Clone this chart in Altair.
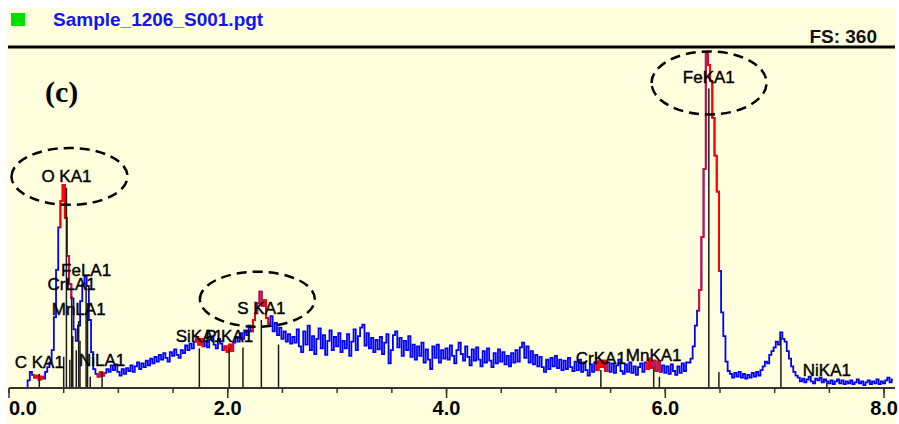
import altair as alt
import pandas as pd

# ---------------- data ----------------
E_START = 0.16   # keV of first channel
E_STEP = 0.02    # keV per channel

counts_low = [0, 8, 17, 14, 11, 13, 9, 12, 10, 17, 22, 27, 40, 75, 125, 170, 198, 215, 180, 140,
              110, 95, 62, 50, 66, 92, 110, 118, 108, 72, 38, 20, 15, 12, 17, 13, 16, 20, 17, 24,
              19, 25]  # 0.16 .. 0.98
counts_si_s = [17, 13, 20, 15, 21, 18, 24, 17, 23, 27, 20, 26, 22, 29, 24, 31, 26, 33, 28, 35,
               30, 37, 32, 28, 38, 34, 41, 35, 32, 40, 37, 45, 40, 47, 42, 49, 54, 46, 52, 44,
               50, 43, 51, 54, 46, 42, 52, 47, 40, 44, 38, 46, 39, 48, 54, 49, 58, 52, 61, 56,
               66, 60, 72, 79, 90, 102, 87, 93, 74, 68, 76, 60, 69, 56, 64, 52, 60, 49, 57, 47,
               54]  # 1.00 .. 2.60
counts_mid = [48, 62, 44, 38, 60, 46, 66, 40, 55, 36, 52, 63, 42, 56, 35, 50, 61, 40, 54, 44,
              58, 38, 50, 42, 57, 34, 49, 62, 40, 55, 64, 67, 45, 58, 42, 53, 38, 51, 41, 54,
              36, 48, 57, 26, 40, 56, 60, 43, 53, 34, 50, 40, 55, 33, 46, 30, 44, 34, 48, 27,
              41, 30, 20, 44, 32, 46, 27, 40, 31]  # 2.62 .. 3.98
counts_high = [42, 30, 45, 34, 26, 40, 48, 36, 29, 44, 33, 24, 41, 29, 43, 30, 23, 39, 27, 42,
               29, 22, 37, 26, 41, 28, 38, 25, 34, 23, 37, 27, 40, 28, 43, 48, 32, 44, 27, 39,
               25, 35, 23, 33, 22, 17, 30, 20, 32, 23, 34, 21, 30, 19, 29, 20, 32, 22, 18, 28,
               19, 30, 17, 27, 19, 13, 25, 17, 27, 19, 29]  # 4.00 .. 5.40
counts_crmn = [22, 29, 18, 27, 17, 26, 16, 24, 30, 18, 15, 25, 17, 27, 16, 23, 14, 22, 26, 17,
               27, 20, 31, 21, 29, 18, 28, 17, 24, 16, 23, 15, 25, 18, 14, 23, 16, 26, 18, 27]  # 5.42 .. 6.20
counts_fe = [27, 31, 44, 66, 82, 104, 160, 232, 355, 342, 325, 286, 246, 208, 124, 80, 55, 28,
             18, 15, 11, 16, 12, 17, 11, 15, 10, 14, 11, 16, 12, 17, 13, 19, 23, 28, 26, 35,
             39, 43, 49, 46, 59, 52, 49, 39, 31, 23, 17, 13]  # 6.22 .. 7.20
counts_tail = [11, 7, 10, 6, 9, 12, 7, 5, 10, 8, 11, 6, 9, 7, 5, 8, 4, 7, 9, 5,
               8, 4, 7, 5, 8, 4, 6, 9, 5, 7, 3, 6, 8, 4, 7, 5, 9, 4, 7, 5,
               8, 11, 6, 9]  # 7.22 .. 8.08

counts = counts_low + counts_si_s + counts_mid + counts_high + counts_crmn + counts_fe + counts_tail
energy = [round(E_START + E_STEP * i, 2) for i in range(len(counts))]

# regions of interest drawn in red
roi_names = ["C", "O", "NiL", "Si", "P", "S", "Cr", "Mn", "Fe"]
roi_lo = [0.22, 0.46, 0.80, 1.70, 1.96, 2.22, 5.36, 5.82, 6.30]
roi_hi = [0.32, 0.58, 0.88, 1.78, 2.06, 2.38, 5.48, 5.96, 6.50]

# labelled element lines
label_text = ["C KA1", "O KA1", "CrLA1", "MnLA1", "FeLA1", "NiLA1", "SiKA1", "P KA1", "S KA1",
              "CrKA1", "MnKA1", "FeKA1", "NiKA1"]
label_energy = [0.277, 0.525, 0.573, 0.637, 0.705, 0.851, 1.740, 2.013, 2.307,
                5.411, 5.894, 6.398, 7.477]
label_height = [15, 212, 97, 71, 112, 17, 42, 42, 72, 19, 22, 317, 6]

# unlabelled companion lines (Ll, Lb, Kb)
extra_energy = [0.500, 0.556, 0.583, 0.615, 0.649, 0.718, 0.743, 2.139, 2.464, 5.946, 6.490, 7.057]
extra_height = [33, 30, 55, 40, 50, 90, 12, 43, 46, 12, 17, 54]

# circled peaks
circle_energy = [0.553, 2.271, 6.40]
circle_counts = [224, 94, 323]

minor_ticks = [0.0, 0.5, 1.0, 1.5, 2.0, 2.5, 3.0, 3.5, 4.0, 4.5, 5.0, 5.5, 6.0, 6.5, 7.0, 7.5, 8.0]
major_ticks = [0.0, 2.0, 4.0, 6.0, 8.0]

title_text = "Sample_1206_S001.pgt"
fs_text = "FS: 360"
panel_text = "(c)"

# ---------------- tables ----------------
spec = pd.DataFrame({"energy": energy, "counts": counts})
roi_rows = []
for name, lo, hi in zip(roi_names, roi_lo, roi_hi):
    for e, c in zip(energy, counts):
        if lo - 1e-9 <= e <= hi + 1e-9:
            roi_rows.append({"energy": e, "counts": c, "roi": name})
roi_df = pd.DataFrame(roi_rows)
lab_df = pd.DataFrame({"energy": label_energy, "h": label_height, "t": label_text})
mark_df = pd.DataFrame({"energy": label_energy + extra_energy, "h": label_height + extra_height})
minor_df = pd.DataFrame({"v": minor_ticks})
major_df = pd.DataFrame({"v": major_ticks, "lbl": [f"{v:.1f}" for v in major_ticks]})
one = pd.DataFrame({"a": [0]})

W, H = 886, 340
xs = alt.Scale(domain=[0, 8.1], nice=False, zero=False)
ys = alt.Scale(domain=[0, 360], nice=False)
FONT = "Liberation Sans"
YELLOW = "#FFFFDE"
AXC = "#333333"


def ellipse_path(b):
    k = 0.5523
    return (f"M -1 0 C -1 {-k*b:.4f} {-k:.4f} {-b:.4f} 0 {-b:.4f} "
            f"C {k:.4f} {-b:.4f} 1 {-k*b:.4f} 1 0 "
            f"C 1 {k*b:.4f} {k:.4f} {b:.4f} 0 {b:.4f} "
            f"C {-k:.4f} {b:.4f} -1 {k*b:.4f} -1 0 Z")


def X(field):
    return alt.X(field, scale=xs, axis=None, title=None)


def Y(field):
    return alt.Y(field, scale=ys, axis=None, title=None)


# white margins around the pale-yellow panel
white_top = alt.Chart(one).mark_rect(color="white").encode(
    x=alt.value(-9), x2=alt.value(890), y=alt.value(-48), y2=alt.value(-40))
white_left = alt.Chart(one).mark_rect(color="white").encode(
    x=alt.value(-9), x2=alt.value(-2), y=alt.value(-48), y2=alt.value(376))
white_right = alt.Chart(one).mark_rect(color="white").encode(
    x=alt.value(886), x2=alt.value(890), y=alt.value(-48), y2=alt.value(376))

blue = alt.Chart(spec).mark_line(color="#0000FF", strokeWidth=1.8, interpolate="step").encode(
    x=X("energy:Q"), y=Y("counts:Q"))

red = alt.Chart(roi_df).mark_line(color="#FF0000", strokeWidth=1.8, interpolate="step").encode(
    x=X("energy:Q"), y=Y("counts:Q"), detail="roi:N")

markers = alt.Chart(mark_df).mark_rule(color="#1a1a1a", strokeWidth=1.5).encode(
    x=X("energy:Q"), y=Y("h:Q"), y2=alt.datum(0))

labels = alt.Chart(lab_df).mark_text(font=FONT, fontSize=17, color="black", stroke="black",
                                     strokeWidth=0.4, align="center",
                                     baseline="alphabetic", dy=-6).encode(
    x=X("energy:Q"), y=Y("h:Q"), text="t:N")

# x axis: domain line, ticks every 0.5 keV, labelled every 2 keV
domain = alt.Chart(one).mark_rule(color=AXC, strokeWidth=2).encode(
    x=alt.value(0), x2=alt.value(W), y=alt.value(H))
minor = alt.Chart(minor_df).mark_rule(color=AXC, strokeWidth=1.5).encode(
    x=X("v:Q"), y=alt.value(H), y2=alt.value(H + 5))
major = alt.Chart(major_df).mark_rule(color=AXC, strokeWidth=1.5).encode(
    x=X("v:Q"), y=alt.value(H), y2=alt.value(H + 10))
tick_first = alt.Chart(major_df).transform_filter("datum.v == 0").mark_text(
    font=FONT, fontWeight="bold", fontSize=20, color="black", align="left",
    baseline="alphabetic").encode(x=X("v:Q"), y=alt.value(H + 27), text="lbl:N")
tick_rest = alt.Chart(major_df).transform_filter("datum.v > 0").mark_text(
    font=FONT, fontWeight="bold", fontSize=20, color="black", align="center",
    baseline="alphabetic").encode(x=X("v:Q"), y=alt.value(H + 27), text="lbl:N")

ell_layers = []
for e, c, rx, b in zip(circle_energy, circle_counts, [58, 57.5, 57.5], [0.49, 0.478, 0.548]):
    d = pd.DataFrame({"energy": [e], "counts": [c]})
    ell_layers.append(
        alt.Chart(d).mark_point(shape=ellipse_path(b), size=(2 * rx) ** 2, filled=False,
                                stroke="black", strokeWidth=2.5, strokeDash=[10, 6],
                                opacity=1).encode(x=X("energy:Q"), y=Y("counts:Q")))

top_rule = alt.Chart(one).mark_rule(color="black", strokeWidth=3).encode(
    x=alt.value(-1), x2=alt.value(886), y=alt.value(-1))
green = alt.Chart(one).mark_rect(color="#00E000").encode(
    x=alt.value(2), x2=alt.value(16), y=alt.value(-35), y2=alt.value(-22))
title = alt.Chart(one).mark_text(text=title_text, font=FONT, fontWeight="bold", fontSize=19,
                                 color="#1414F0", align="left", baseline="alphabetic").encode(
    x=alt.value(44), y=alt.value(-22))
fs = alt.Chart(one).mark_text(text=fs_text, font=FONT, fontWeight="bold", fontSize=19,
                              color="#111111", align="right", baseline="alphabetic").encode(
    x=alt.value(868), y=alt.value(-5))
panel = alt.Chart(one).mark_text(text=panel_text, font="Liberation Serif", fontWeight="bold",
                                 fontSize=30, color="black", align="left",
                                 baseline="alphabetic").encode(
    x=alt.value(36), y=alt.value(54))

chart = alt.layer(white_top, white_left, white_right, blue, red, markers, labels,
                  domain, minor, major, tick_first, tick_rest,
                  *ell_layers, top_rule, green, title, fs, panel).properties(
    width=W, height=H,
    padding={"left": 9, "top": 48, "right": 4, "bottom": 36},
    autosize=alt.AutoSizeParams(type="none"),
    background=YELLOW,
).configure_view(stroke=None)

chart.save("out.html", embed_options={"renderer": "svg", "actions": False})
